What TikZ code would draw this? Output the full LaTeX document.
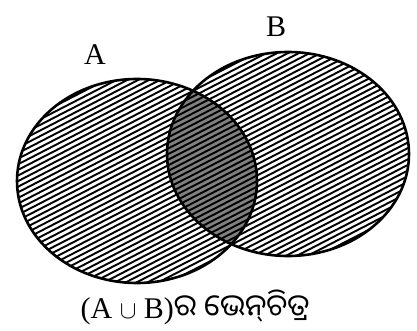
\documentclass[tikz,border=0pt]{standalone}
\usepackage{fontspec}
\setmainfont{Liberation Serif}
\newfontfamily\odia[Script=Oriya]{Noto Sans Oriya UI}
\tikzset{
  hatch/.style={line width=1.9pt, black},
  setline/.style={line width=2.6pt, black},
  lab/.style={font=\fontsize{30}{33}\selectfont, inner sep=0pt}
}
\begin{document}
\begin{tikzpicture}[x=1pt,y=-1pt]
\useasboundingbox (0,0) rectangle (417,331);
\coordinate (ca) at (137,181);
\coordinate (cb) at (288,154);
% intersection grey
\begin{scope}
  \clip (ca) ellipse [x radius=120, y radius=102];
  \fill[black!50] (cb) ellipse [x radius=121, y radius=102];
\end{scope}
% hatching of union
\begin{scope}
  \clip (ca) ellipse [x radius=120, y radius=102] (cb) ellipse [x radius=121, y radius=102];
  \foreach \c in {0,5.6,...,600} \draw[hatch] (0,\c) -- (417,\c-215);
\end{scope}
\draw[setline] (ca) ellipse [x radius=120, y radius=102];
\draw[setline] (cb) ellipse [x radius=121, y radius=102];
\node[lab] (la) at (95,55) {A};
\node[lab] (lb) at (276,27) {B};
\node[inner sep=0pt, anchor=base, font=\fontsize{30}{33}\selectfont] (cap) at (195,318) {(A $\cup$ B)\odia ର ଭେନ୍‌ଚିତ୍ର};
\end{tikzpicture}
\end{document}
